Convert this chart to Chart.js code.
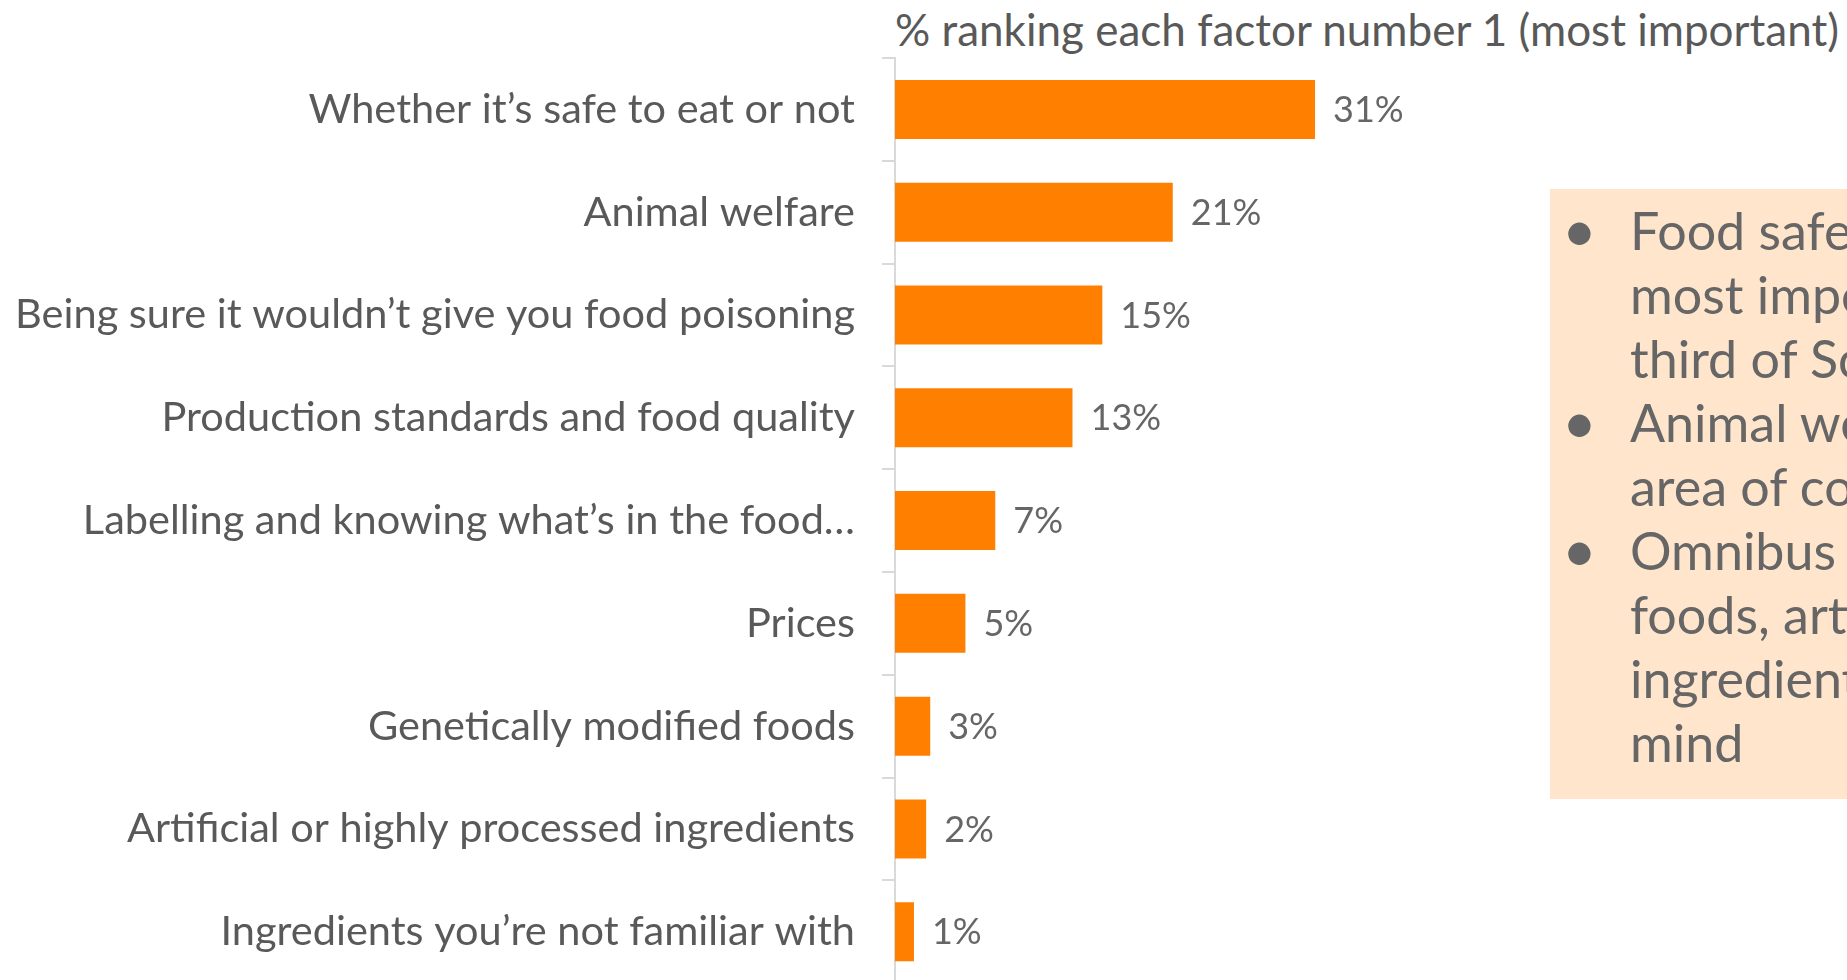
<!DOCTYPE html>
<html>
<head>
<meta charset="utf-8">
<script src="https://cdn.jsdelivr.net/npm/chart.js@4/dist/chart.umd.min.js"></script>
<style>
  body { margin: 0; width: 1847px; height: 980px; overflow: hidden; position: relative; background: #fff; font-family: Lato, sans-serif; }
  #title { position: absolute; left: 895px; top: 3px; font-size: 44px; line-height: 52px; color: #595959; white-space: nowrap; }
  #c { position: absolute; left: 0; top: 0; }
  #note { position: absolute; left: 1550px; top: 189px; width: 420px; height: 610px; background: #ffe5cc; }
  #note .lines { position: absolute; left: 80px; top: 9px; font-size: 52px; line-height: 64px; color: #666; white-space: nowrap; }
  #note .item { position: relative; }
  #note .dot { position: absolute; left: -68px; top: -1px; font-size: 60px; }
</style>
</head>
<body>
<div id="title">% ranking each factor number 1 (most important)</div>
<canvas id="c" width="1550" height="1035"></canvas>
<div id="note">
  <div class="lines">
    <div class="item"><span class="dot">•</span>Food safety is the<br>most important factor for a<br>third of Scots</div>
    <div class="item"><span class="dot">•</span>Animal welfare is another<br>area of concern</div>
    <div class="item"><span class="dot">•</span>Omnibus issues like GM<br>foods, artificial<br>ingredients are less top of<br>mind</div>
  </div>
</div>
<script>
// factors, top to bottom
const factors = [
  'Whether it\u2019s safe to eat or not',
  'Animal welfare',
  'Being sure it wouldn\u2019t give you food poisoning',
  'Production standards and food quality',
  'Labelling and knowing what\u2019s in the food\u2026',
  'Prices',
  'Genetically modified foods',
  'Artificial or highly processed ingredients',
  'Ingredients you\u2019re not familiar with'
];
// % ranking each factor number 1 (bar lengths)
const shares = [31, 20.5, 15.3, 13.1, 7.4, 5.2, 2.6, 2.3, 1.4];
const axisMax = 45;

// value labels to the right of each bar
const valueLabels = {
  id: 'valueLabels',
  afterDatasetsDraw(chart) {
    const ctx = chart.ctx;
    const meta = chart.getDatasetMeta(0);
    ctx.save();
    ctx.font = '36px Lato';
    ctx.fillStyle = '#666';
    ctx.textAlign = 'left';
    ctx.textBaseline = 'middle';
    meta.data.forEach((bar, i) => {
      ctx.fillText(Math.round(shares[i]) + '%', bar.x + 18, bar.y + 1);
    });
    ctx.restore();
  }
};

const ctx = document.getElementById('c').getContext('2d');
new Chart(ctx, {
  type: 'bar',
  data: {
    labels: factors,
    datasets: [{
      data: shares,
      backgroundColor: '#ff8000',
      barPercentage: 0.574,
      categoryPercentage: 1
    }]
  },
  options: {
    indexAxis: 'y',
    responsive: false,
    animation: false,
    layout: { padding: { top: 58, bottom: 16.8, left: 0, right: 45.25 } },
    plugins: { legend: { display: false }, tooltip: { enabled: false } },
    scales: {
      x: { display: false, min: 0, max: axisMax },
      y: {
        afterFit: s => { s.width = 895; },
        border: { color: '#d9d9d9', width: 2 },
        grid: { drawOnChartArea: false, color: '#d9d9d9', lineWidth: 2, tickLength: 13, offset: true },
        ticks: { color: '#595959', font: { family: 'Lato', size: 41.5 }, padding: 27, autoSkip: false }
      }
    }
  },
  plugins: [valueLabels]
});
</script>
</body>
</html>
